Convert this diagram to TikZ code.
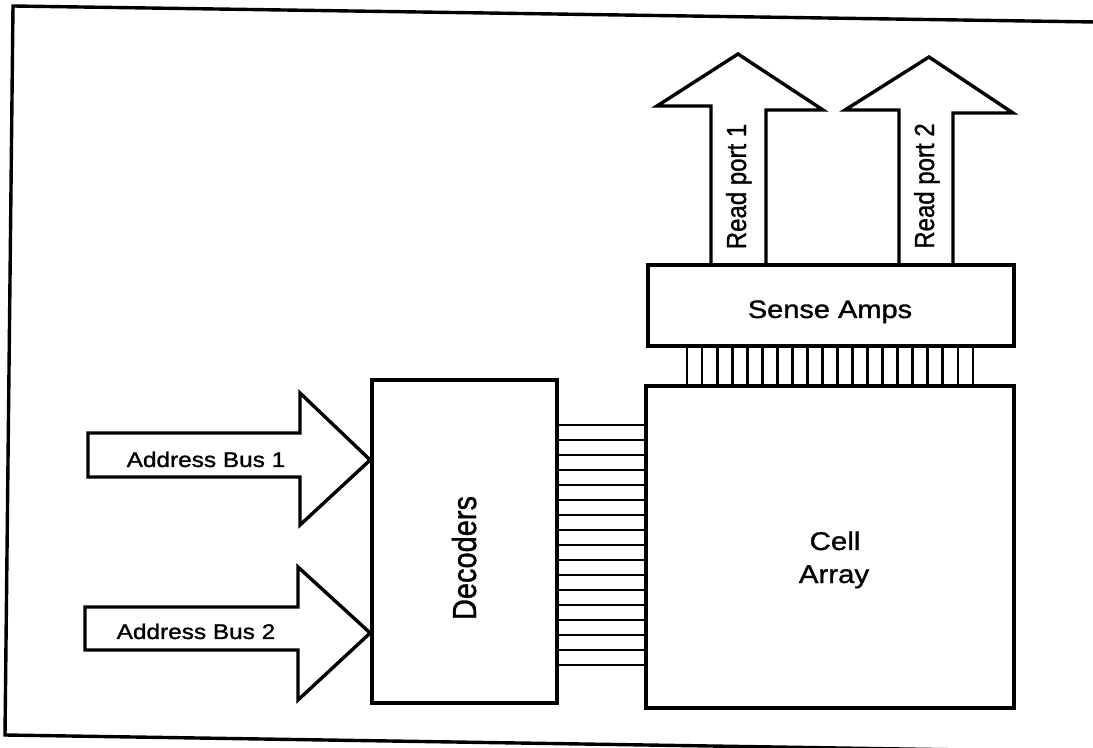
\documentclass[tikz,border=0pt]{standalone}
\usepackage{graphicx}
\usepackage{fontspec}
\setmainfont[FakeBold=1.2]{Liberation Sans}
\newcommand\hstr[1]{\scalebox{1.15}[1]{#1}}
\newcommand\vstr[1]{\scalebox{1}[1.15]{#1}}
\tikzset{
  box/.style={draw, line width=1.8pt, inner sep=0pt, line join=miter},
  fat/.style={draw, line width=1.7pt, line join=miter},
  comb/.style={line width=1.4pt},
  lbl/.style={inner sep=0pt, anchor=base},
}
\begin{document}
\begin{tikzpicture}[x=0.5pt, y=-0.5pt]
\useasboundingbox (0,0) rectangle (1093,748);
\fill[white] (0,0) rectangle (1093,748);
\begin{scope}
\clip (0,0) rectangle (1093,748);
\draw[line width=1.7pt] (1095,22) -- (13,6) -- (5,735) -- (1095,752);
\end{scope}

% blocks
\node[box, minimum width=92.5pt, minimum height=161.5pt] (dec) at (464.5,541.5) {};
\node[box, minimum width=184pt, minimum height=161pt] (ca) at (830,547) {};
\node[box, minimum width=183pt, minimum height=40.5pt] (sa) at (831,305.5) {};

% labels
\node[lbl, rotate=90, font=\fontsize{14.5}{17}\selectfont] (dect) at (476,558) {\vstr{Decoders}};
\node[lbl, font=\fontsize{12.8}{15}\selectfont] (cat1) at (835,550) {\hstr{Cell}};
\node[lbl, font=\fontsize{12.8}{15}\selectfont] (cat2) at (834,583) {\hstr{Array}};
\node[lbl, font=\fontsize{12.6}{15}\selectfont] (sat) at (830,318) {\hstr{Sense Amps}};

% address bus arrows
\draw[fat] (88,433) -- (300,433) -- (300,393) -- (dec.west |- 0,460) -- (300,525) -- (300,477) -- (88,477) -- cycle;
\node[lbl, font=\fontsize{10.6}{13}\selectfont] (ab1) at (206,467) {\hstr{Address Bus 1}};
\draw[fat] (85,607) -- (298,607) -- (298,567) -- (dec.west |- 0,633) -- (298,700) -- (298,650) -- (85,650) -- cycle;
\node[lbl, font=\fontsize{10.6}{13}\selectfont] (ab2) at (196,639) {\hstr{Address Bus 2}};

% read port arrows
\draw[fat] (sa.north -| 711,0) -- (711,106) -- (657,106) -- (738,54) -- (823,110) -- (766,110) -- (sa.north -| 766,0);
\node[lbl, rotate=90, font=\fontsize{12}{14}\selectfont] (rp1) at (746,186.5) {\vstr{Read port 1}};
\draw[fat] (sa.north -| 899,0) -- (899,110) -- (845,110) -- (929,57) -- (1013,113) -- (953,113) -- (sa.north -| 953,0);
\node[lbl, rotate=90, font=\fontsize{12}{14}\selectfont] (rp2) at (934,186) {\vstr{Read port 2}};

% word lines decoders -> cell array
\foreach \i in {0,...,16} {
  \coordinate (h\i) at (0,{425+15*\i});
  \draw[comb] (dec.east |- h\i) -- (ca.west |- h\i);
}
% bit lines cell array -> sense amps
\foreach \i in {0,...,19} {
  \coordinate (v\i) at ({687+15.05*\i},0);
  \draw[comb] (ca.north -| v\i) -- (sa.south -| v\i);
}
\end{tikzpicture}
\end{document}
